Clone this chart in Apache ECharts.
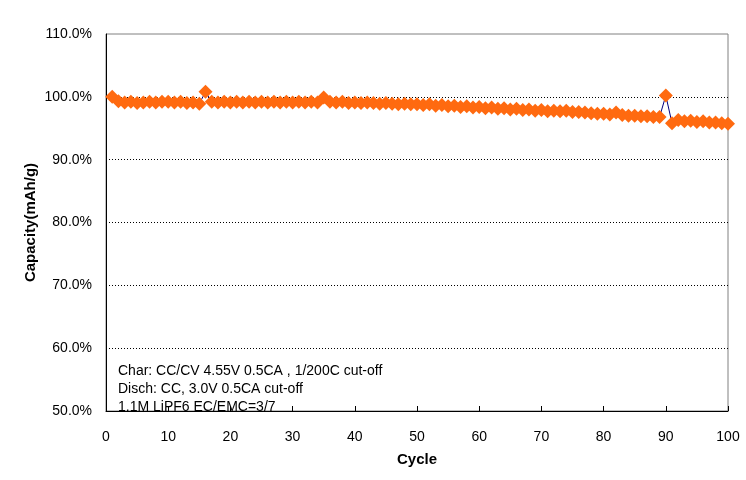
<!DOCTYPE html>
<html>
<head>
<meta charset="utf-8">
<script src="https://cdn.jsdelivr.net/npm/echarts@6/dist/echarts.min.js"></script>
<style>html,body{margin:0;padding:0;background:#fff}#c{width:746px;height:480px}</style>
</head>
<body>
<div id="c"></div>
<script>
var cycles = [];
for (var i = 1; i <= 100; i++) cycles.push(i);
var capacity = [
  100.0, 99.3, 99.1, 99.2, 99.0, 99.1, 99.2, 99.1, 99.2, 99.2,
  99.1, 99.2, 99.0, 99.1, 98.9, 100.8, 99.2, 99.1, 99.2, 99.1,
  99.2, 99.1, 99.2, 99.1, 99.2, 99.1, 99.2, 99.1, 99.2, 99.1,
  99.2, 99.1, 99.2, 99.1, 99.9, 99.2, 99.1, 99.2, 99.0, 99.1,
  99.0, 99.1, 99.0, 98.9, 99.0, 98.9, 98.8, 98.9, 98.8, 98.8,
  98.7, 98.8, 98.6, 98.7, 98.5, 98.6, 98.4, 98.5, 98.3, 98.4,
  98.2, 98.3, 98.1, 98.2, 98.0, 98.1, 97.9, 98.0, 97.8, 97.9,
  97.7, 97.8, 97.7, 97.8, 97.6, 97.6, 97.5, 97.4, 97.3, 97.3,
  97.2, 97.5, 97.1, 97.0, 97.0, 96.9, 96.9, 96.8, 96.8, 100.2,
  95.8, 96.3, 96.1, 96.2, 96.0, 96.1, 95.9, 95.9, 95.8, 95.7
];
var noteLines = [
  'Char: CC/CV 4.55V 0.5CA , 1/200C cut-off',
  'Disch: CC, 3.0V 0.5CA cut-off',
  '1.1M LiPF6 EC/EMC=3/7'
];
var xName = 'Cycle';
var yName = 'Capacity(mAh/g)';

var data = cycles.map(function (c, i) { return [c, capacity[i]]; });
var font = 'Arial, "Liberation Sans", sans-serif';
var chart = echarts.init(document.getElementById('c'), null, {renderer: 'canvas'});
chart.setOption({
  animation: false,
  backgroundColor: '#fff',
  grid: {left: 106, right: 18, top: 34, bottom: 69, show: true, borderColor: '#808080', borderWidth: 1},
  xAxis: {
    type: 'value', min: 0, max: 100, interval: 10,
    name: xName, nameLocation: 'middle', nameGap: 41,
    nameTextStyle: {fontFamily: font, fontSize: 15, fontWeight: 'bold', color: '#000'},
    axisLine: {lineStyle: {color: '#000', width: 1}},
    axisTick: {show: true, inside: true, length: 5, lineStyle: {color: '#000'}},
    axisLabel: {margin: 19, fontFamily: font, fontSize: 14, color: '#000'},
    splitLine: {show: false}
  },
  yAxis: {
    type: 'value', min: 50, max: 110, interval: 10,
    name: yName, nameLocation: 'middle', nameGap: 68, nameMoveOverlap: false,
    nameTextStyle: {fontFamily: font, fontSize: 15, fontWeight: 'bold', color: '#000'},
    axisLine: {show: true, lineStyle: {color: '#000', width: 1}},
    axisTick: {show: false},
    axisLabel: {margin: 14, fontFamily: font, fontSize: 14, color: '#000',
      formatter: function (v) { return v.toFixed(1) + '%'; }},
    splitLine: {show: true, showMinLine: false, showMaxLine: false,
      lineStyle: {color: '#000', type: [1, 2], width: 1}}
  },
  series: [{
    type: 'line',
    data: data,
    symbol: 'diamond',
    symbolSize: 14,
    lineStyle: {color: '#000080', width: 1},
    itemStyle: {color: '#ff6a10'},
    z: 3
  }],
  graphic: [{
    type: 'text',
    left: 118, top: 362,
    style: {
      text: noteLines.join('\n'),
      fontFamily: font, fontSize: 14, lineHeight: 18, fill: '#000'
    }
  }]
});
</script>
</body>
</html>
